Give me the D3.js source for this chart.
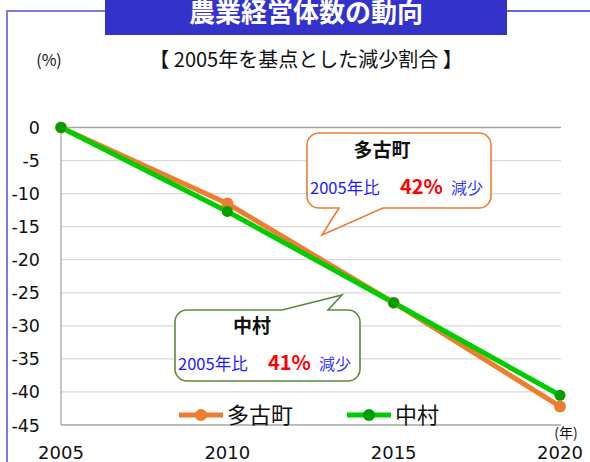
<!DOCTYPE html>
<head>
  <meta charset="utf-8">
  <style>
    body { margin: 0; background: #fff; }
    svg { display: block; font-family: "Noto Sans CJK JP", "Noto Sans", sans-serif; }
    .num { font-family: "DejaVu Sans", "Noto Sans", sans-serif; }
  </style>
  <script src="https://cdn.jsdelivr.net/npm/d3@7"></script>
</head>
<body>
<svg id=chart width="590" height="462"></svg>
<script>
// data: change from 2005 (%)
const years = [2005, 2010, 2015, 2020]
const tako = [0, -11.5, -26.5, -42.2]
const naka = [0, -12.7, -26.5, -40.5]
const yTicks = [0, -5, -10, -15, -20, -25, -30, -35, -40, -45]
const seriesNames = ['多古町', '中村']

const svg = d3.select('#chart')
const orange = '#ed7d31', green = '#00cc00', greenDot = '#009f00'

const x = d3.scaleLinear().domain([2005, 2020]).range([61, 560])
const y = d3.scaleLinear().domain([0, -45]).range([127.5, 425])

// outer frame + title box
svg.append('line').attr('x1', 7).attr('x2', 7).attr('y1', 11).attr('y2', 462)
  .attr('stroke', '#7b7be0').attr('stroke-width', 2)
svg.append('line').attr('x1', 6).attr('x2', 105).attr('y1', 11).attr('y2', 11)
  .attr('stroke', '#7b7be0').attr('stroke-width', 2)
svg.append('line').attr('x1', 507).attr('x2', 590).attr('y1', 11).attr('y2', 11)
  .attr('stroke', '#3333cc').attr('stroke-width', 1.5)
svg.append('rect').attr('x', 105).attr('y', -5).attr('width', 402).attr('height', 40)
  .attr('fill', '#3333cc')
svg.append('text').attr('x', 306).attr('y', 22).attr('text-anchor', 'middle')
  .attr('fill', '#fff').attr('font-size', 26).attr('font-weight', 600)
  .text('農業経営体数の動向')

svg.append('text').attr('x', 306).attr('y', 67).attr('text-anchor', 'middle')
  .attr('font-size', 20).attr('fill', '#111')
  .text('【 2005年を基点とした減少割合 】')
svg.append('text').attr('x', 49).attr('y', 66).attr('text-anchor', 'middle')
  .attr('font-size', 16).attr('fill', '#111').text('(%)')

// grid
const g = svg.append('g')
g.selectAll('line.grid').data(yTicks).join('line')
  .attr('x1', x(2005)).attr('x2', x(2020) + 1)
  .attr('y1', d => y(d)).attr('y2', d => y(d))
  .attr('stroke', d => (d === 0 || d === -45) ? '#a6a6a6' : '#d9d9d9')
  .attr('stroke-width', 1.3)
g.append('line').attr('x1', x(2005)).attr('x2', x(2005))
  .attr('y1', y(0)).attr('y2', y(-45)).attr('stroke', '#a6a6a6').attr('stroke-width', 1.3)

g.selectAll('text.yt').data(yTicks).join('text').attr('class', 'num')
  .attr('x', 40).attr('y', d => y(d) + 6.5).attr('text-anchor', 'end')
  .attr('font-size', 17.5).attr('fill', '#111').text(d => d)
g.selectAll('text.xt').data(years).join('text').attr('class', 'num')
  .attr('x', d => x(d)).attr('y', 459).attr('text-anchor', 'middle')
  .attr('font-size', 18).attr('fill', '#111').text(d => d)
svg.append('text').attr('x', 566).attr('y', 438).attr('text-anchor', 'middle')
  .attr('font-size', 14).attr('fill', '#111').text('(年)')

// lines
const line = d3.line().x((d, i) => x(years[i])).y(d => y(d))
svg.append('path').attr('d', line(tako)).attr('fill', 'none')
  .attr('stroke', orange).attr('stroke-width', 5)
svg.append('path').attr('d', line(naka)).attr('fill', 'none')
  .attr('stroke', green).attr('stroke-width', 5)
svg.selectAll('circle.t').data(tako).join('circle')
  .attr('cx', (d, i) => x(years[i])).attr('cy', d => y(d)).attr('r', 6).attr('fill', orange)
svg.selectAll('circle.n').data(naka).join('circle')
  .attr('cx', (d, i) => x(years[i])).attr('cy', d => y(d)).attr('r', 5.5).attr('fill', greenDot)

// legend
const leg = [[179, orange, orange], [347, green, greenDot]]
leg.forEach(([lx, c, dc], i) => {
  svg.append('line').attr('x1', lx).attr('x2', lx + 44).attr('y1', 415).attr('y2', 415)
    .attr('stroke', c).attr('stroke-width', 5)
  svg.append('circle').attr('cx', lx + 22).attr('cy', 415).attr('r', 6).attr('fill', dc)
  svg.append('text').attr('x', lx + 48).attr('y', 423).attr('font-size', 22)
    .attr('fill', '#111').text(seriesNames[i])
})

// callouts
const r = 12
function calloutBottom(x0, y0, x1, y1, tl, tr, tip) {
  return `M${x0 + r},${y0}H${x1 - r}A${r},${r} 0 0 1 ${x1},${y0 + r}V${y1 - r}` +
    `A${r},${r} 0 0 1 ${x1 - r},${y1}H${tr}L${tip[0]},${tip[1]}L${tl},${y1}H${x0 + r}` +
    `A${r},${r} 0 0 1 ${x0},${y1 - r}V${y0 + r}A${r},${r} 0 0 1 ${x0 + r},${y0}Z`
}
function calloutTop(x0, y0, x1, y1, tl, tr, tip) {
  return `M${x0 + r},${y0}H${tl}L${tip[0]},${tip[1]}L${tr},${y0}H${x1 - r}` +
    `A${r},${r} 0 0 1 ${x1},${y0 + r}V${y1 - r}A${r},${r} 0 0 1 ${x1 - r},${y1}H${x0 + r}` +
    `A${r},${r} 0 0 1 ${x0},${y1 - r}V${y0 + r}A${r},${r} 0 0 1 ${x0 + r},${y0}Z`
}
svg.append('path').attr('d', calloutBottom(307, 133, 491, 208, 339, 383, [322, 235]))
  .attr('fill', '#fff').attr('stroke', orange).attr('stroke-width', 1.6)
svg.append('path').attr('d', calloutTop(175, 310, 360, 381, 282, 328, [342, 295]))
  .attr('fill', '#fff').attr('stroke', '#5b8a3c').attr('stroke-width', 1.6)

function calloutText(name, cx, ty, bx, by, pct) {
  svg.append('text').attr('x', cx).attr('y', ty).attr('text-anchor', 'middle')
    .attr('font-size', 19).attr('font-weight', 'bold').attr('fill', '#111').text(name)
  svg.append('text').attr('x', bx).attr('y', by).attr('font-size', 16.5)
    .attr('fill', '#1a1aff').text('2005年比')
  svg.append('text').attr('x', bx + 90).attr('y', by).attr('font-size', 20)
    .attr('font-weight', 'bold').attr('fill', '#ff0000').text(pct)
  svg.append('text').attr('x', bx + 141).attr('y', by).attr('font-size', 16)
    .attr('fill', '#3838ff').text('減少')
}
calloutText(seriesNames[0], 382, 157, 310, 194, '42%')
calloutText(seriesNames[1], 252, 333, 178, 370, '41%')
</script>
</body>
